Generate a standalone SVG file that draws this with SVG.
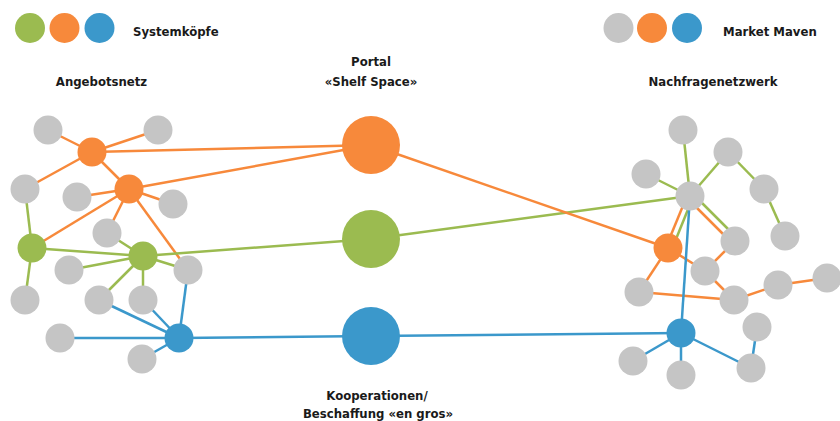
<svg xmlns="http://www.w3.org/2000/svg" width="840" height="421" viewBox="0 0 840 421">
<style>
.g{fill:#c5c5c5}
.o{fill:#f7893b}
.gr{fill:#9bbb50}
.b{fill:#3b98cb}
.eo{stroke:#f7893b;stroke-width:2.5;fill:none}
.eg{stroke:#9bbb50;stroke-width:2.5;fill:none}
.eb{stroke:#3b98cb;stroke-width:2.5;fill:none}
text{font-family:"DejaVu Sans Condensed","DejaVu Sans",sans-serif;font-stretch:condensed;font-weight:bold;font-size:13px;fill:#1a1a1a}
.c{text-anchor:middle}
</style>
<rect width="840" height="421" fill="#ffffff"/>
<g id="connectors">
<!-- left orange -->
<line class="eo" x1="48" y1="130" x2="92" y2="152"/>
<line class="eo" x1="158" y1="130" x2="92" y2="152"/>
<line class="eo" x1="92" y1="152" x2="371" y2="145"/>
<line class="eo" x1="92" y1="152" x2="25" y2="189"/>
<line class="eo" x1="92" y1="152" x2="129" y2="189"/>
<line class="eo" x1="129" y1="189" x2="77" y2="197"/>
<line class="eo" x1="129" y1="189" x2="173" y2="204"/>
<line class="eo" x1="129" y1="189" x2="371" y2="145"/>
<line class="eo" x1="129" y1="189" x2="32" y2="248"/>
<line class="eo" x1="129" y1="189" x2="107" y2="233"/>
<line class="eo" x1="129" y1="189" x2="188" y2="270"/>
<!-- left green -->
<line class="eg" x1="25" y1="189" x2="32" y2="248"/>
<line class="eg" x1="32" y1="248" x2="25" y2="300"/>
<line class="eg" x1="32" y1="248" x2="143" y2="256"/>
<line class="eg" x1="107" y1="233" x2="143" y2="256"/>
<line class="eg" x1="69" y1="270" x2="143" y2="256"/>
<line class="eg" x1="143" y1="256" x2="188" y2="270"/>
<line class="eg" x1="143" y1="256" x2="99" y2="300"/>
<line class="eg" x1="143" y1="256" x2="143" y2="300"/>
<line class="eg" x1="143" y1="256" x2="371" y2="239"/>
<!-- left blue -->
<line class="eb" x1="99" y1="300" x2="179" y2="338"/>
<line class="eb" x1="143" y1="300" x2="179" y2="338"/>
<line class="eb" x1="188" y1="270" x2="179" y2="338"/>
<line class="eb" x1="60" y1="338" x2="179" y2="338"/>
<line class="eb" x1="142" y1="359" x2="179" y2="338"/>
<line class="eb" x1="179" y1="338" x2="371" y2="336"/>
<line class="eb" x1="371" y1="336" x2="681" y2="333"/>
<!-- right green -->
<line class="eg" x1="683" y1="130" x2="690" y2="196"/>
<line class="eg" x1="728" y1="152" x2="690" y2="196"/>
<line class="eg" x1="646" y1="174" x2="690" y2="196"/>
<line class="eg" x1="728" y1="152" x2="764" y2="189"/>
<line class="eg" x1="764" y1="189" x2="785" y2="236"/>
<line class="eg" x1="690" y1="196" x2="371" y2="239"/>
<line class="eg" x1="693" y1="194" x2="738" y2="239"/>
<line class="eg" x1="693" y1="197" x2="672" y2="249"/>
<!-- right orange -->
<line class="eo" x1="687" y1="198" x2="732" y2="243"/>
<line class="eo" x1="687" y1="196" x2="666" y2="247"/>
<line class="eo" x1="668" y1="248" x2="371" y2="145"/>
<line class="eo" x1="668" y1="248" x2="705" y2="271"/>
<line class="eo" x1="668" y1="248" x2="639" y2="292"/>
<line class="eo" x1="735" y1="241" x2="705" y2="271"/>
<line class="eo" x1="705" y1="271" x2="734" y2="300"/>
<line class="eo" x1="639" y1="292" x2="734" y2="300"/>
<line class="eo" x1="734" y1="300" x2="778" y2="285"/>
<line class="eo" x1="778" y1="285" x2="827" y2="278"/>
<!-- right blue -->
<line class="eb" x1="690" y1="196" x2="681" y2="333"/>
<line class="eb" x1="681" y1="333" x2="633" y2="361"/>
<line class="eb" x1="681" y1="333" x2="681" y2="375"/>
<line class="eb" x1="681" y1="333" x2="751" y2="368"/>
<line class="eb" x1="751" y1="368" x2="757" y2="327"/>
</g>
<g id="legend-systemkoepfe">
<circle class="gr" cx="30" cy="28" r="15"/>
<circle class="o" cx="64.5" cy="28" r="15"/>
<circle class="b" cx="99.5" cy="28" r="15"/>
<text x="133" y="36">Systemköpfe</text>
</g>
<g id="legend-market-maven">
<circle class="g" cx="618.5" cy="28" r="15"/>
<circle class="o" cx="652" cy="28" r="15"/>
<circle class="b" cx="687" cy="28" r="15"/>
<text x="723" y="36">Market Maven</text>
</g>
<g id="label-angebotsnetz"><text class="c" x="101.5" y="86">Angebotsnetz</text></g>
<g id="label-nachfragenetzwerk"><text class="c" x="713" y="86">Nachfragenetzwerk</text></g>
<g id="portal-shelf"><circle class="o" cx="371" cy="145" r="29"/><text class="c" x="371" y="66">Portal</text><text class="c" x="371" y="86">«Shelf Space»</text></g>
<g id="portal-green"><circle class="gr" cx="371" cy="239" r="29"/></g>
<g id="portal-kooperation"><circle class="b" cx="371" cy="336" r="29"/><text class="c" x="377" y="400">Kooperationen/</text><text class="c" x="378" y="418">Beschaffung «en gros»</text></g>
<g id="left-nodes">
<circle id="A" class="g" cx="48" cy="130" r="14.5"/>
<circle id="B" class="g" cx="158" cy="130" r="14.5"/>
<circle id="O1" class="o" cx="92" cy="152" r="14.5"/>
<circle id="C" class="g" cx="25" cy="189" r="14.5"/>
<circle id="O2" class="o" cx="129" cy="189" r="14.5"/>
<circle id="D" class="g" cx="77" cy="197" r="14.5"/>
<circle id="E" class="g" cx="173" cy="204" r="14.5"/>
<circle id="F" class="g" cx="107" cy="233" r="14.5"/>
<circle id="G1" class="gr" cx="32" cy="248" r="14.5"/>
<circle id="G2" class="gr" cx="143" cy="256" r="14.5"/>
<circle id="H" class="g" cx="69" cy="270" r="14.5"/>
<circle id="I" class="g" cx="188" cy="270" r="14.5"/>
<circle id="J" class="g" cx="25" cy="300" r="14.5"/>
<circle id="K" class="g" cx="99" cy="300" r="14.5"/>
<circle id="L" class="g" cx="143" cy="300" r="14.5"/>
<circle id="M" class="g" cx="60" cy="338" r="14.5"/>
<circle id="B1" class="b" cx="179" cy="338" r="14.5"/>
<circle id="N" class="g" cx="142" cy="359" r="14.5"/>
</g>
<g id="right-nodes">
<circle id="R1" class="g" cx="683" cy="130" r="14.5"/>
<circle id="R2" class="g" cx="728" cy="152" r="14.5"/>
<circle id="R3" class="g" cx="646" cy="174" r="14.5"/>
<circle id="Rhub" class="g" cx="690" cy="196" r="14.5"/>
<circle id="R4" class="g" cx="764" cy="189" r="14.5"/>
<circle id="R5" class="g" cx="785" cy="236" r="14.5"/>
<circle id="R6" class="g" cx="735" cy="241" r="14.5"/>
<circle id="RO" class="o" cx="668" cy="248" r="14.5"/>
<circle id="R7" class="g" cx="705" cy="271" r="14.5"/>
<circle id="R8" class="g" cx="639" cy="292" r="14.5"/>
<circle id="R9" class="g" cx="734" cy="300" r="14.5"/>
<circle id="R10" class="g" cx="778" cy="285" r="14.5"/>
<circle id="R11" class="g" cx="827" cy="278" r="14.5"/>
<circle id="R12" class="g" cx="757" cy="327" r="14.5"/>
<circle id="RB" class="b" cx="681" cy="333" r="14.5"/>
<circle id="R13" class="g" cx="633" cy="361" r="14.5"/>
<circle id="R14" class="g" cx="681" cy="375" r="14.5"/>
<circle id="R15" class="g" cx="751" cy="368" r="14.5"/>
</g>
</svg>
